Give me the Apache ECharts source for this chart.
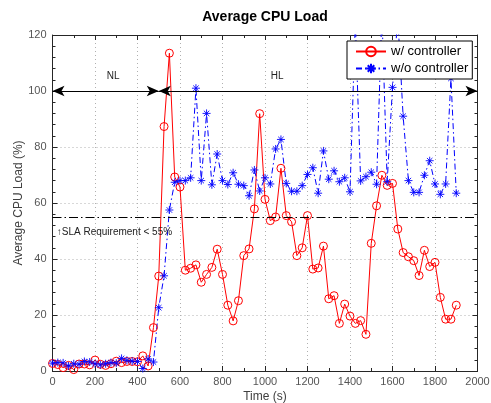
<!DOCTYPE html>
<html><head><meta charset="utf-8">
<script src="https://cdn.jsdelivr.net/npm/echarts@6/dist/echarts.min.js"></script>
<style>html,body{margin:0;padding:0;background:#fff}#c{width:491px;height:403px}</style>
</head><body><div id="c"></div>
<script>
// ---- data ----
const times = [0,25,50,75,100,125,150,175,200,225,250,275,300,325,350,375,400,425,450,475,
  500,525,550,575,600,625,650,675,700,725,750,775,800,825,850,875,900,925,950,975,
  1000,1025,1050,1075,1100,1125,1150,1175,1200,1225,1250,1275,1300,1325,1350,1375,1400,1425,1450,1475,
  1500,1525,1550,1575,1600,1625,1650,1675,1700,1725,1750,1775,1800,1825,1850,1875,1900];
const withController = [2.7,2.3,1.2,2.0,0.5,2.5,2.5,2.2,3.9,2.4,2.0,2.6,3.5,3.0,3.4,3.4,3.3,5.4,1.8,15.5,
  33.9,87.3,113.5,69.3,65.7,36,36.7,37.9,31.7,34.5,37,43.5,34.5,23.5,17.9,25.1,41.2,43.6,57.9,91.9,
  61.3,53.7,55,72.4,55.5,53.3,41.2,44,55.5,36.4,36.8,44.6,25.8,26.9,17,23.9,19.6,17,18,13.1,
  45.6,59,69.9,66.3,67,50.7,42.3,40.8,39.4,34.1,43.1,37.3,38.8,26.3,18.5,18.5,23.5];
const withoutController = [2.8,3.0,2.9,1.8,2.6,2.4,3.4,3.2,2.6,2.2,2.6,3.0,2.8,4.5,3.8,3.5,3.4,0.9,4.3,3.2,
  22.6,34,57.5,67.4,68,68,69,101,68,92,66.5,77.5,68,66.6,70.8,66.7,66.2,62.6,71.8,64.3,
  69,66.8,79.3,82.7,67,64.2,64.2,66.2,70.2,72.6,63.5,78.6,68.5,71.5,67.6,69,64,125,67.9,69.4,
  71,66.7,128,67.6,101.3,126,91,68,63.8,63.8,69.9,75.1,66.8,63.1,66.8,104.5,63.5];
const seriesNames = ['w/ controller', 'w/o controller'];
const xRange = [0, 2000, 200];
const yRange = [0, 120, 20];
const slaLevel = 55;
const slaText = '\u2191SLA Requirement < 55%';
const slaTextAt = [20, 49.6];
const phaseLevel = 100;
const phases = [
  {name: 'NL', from: 0, to: 500, labelAt: 285},
  {name: 'HL', from: 500, to: 2000, labelAt: 1057}
];
const phaseLabelLevel = 105.4;

// ---- chart ----
const FONT = '"Liberation Sans", Arial, Helvetica, sans-serif';
const AX = '#262626';
const chart = echarts.init(document.getElementById('c'), null, {renderer: 'canvas'});
const star = 'path://M0,5L10,5M5,0L5,10M1.6,1.6L8.4,8.4M1.6,8.4L8.4,1.6';

function xAxisCfg(pos, labels) {
  return {
    type: 'value', position: pos, min: xRange[0], max: xRange[1], interval: xRange[2],
    name: labels ? 'Time (s)' : '', nameLocation: 'middle', nameGap: 20, nameMoveOverlap: false,
    nameTextStyle: {fontFamily: FONT, fontSize: 12, color: '#404040'},
    axisLine: {show: true, onZero: false, lineStyle: {color: AX, width: 1}},
    axisTick: {show: true, inside: true, length: 5, lineStyle: {color: AX}},
    minorTick: {show: true, splitNumber: 2, length: 3, lineStyle: {color: AX}},
    axisLabel: {show: labels, margin: 5, fontFamily: FONT, fontSize: 11, color: '#555', formatter: v => String(v)},
    splitLine: {show: labels, lineStyle: {color: '#b0b0b0', type: [1, 3], width: 1}}
  };
}
function yAxisCfg(pos, labels) {
  return {
    type: 'value', position: pos, min: yRange[0], max: yRange[1], interval: yRange[2],
    name: labels ? 'Average CPU Load (%)' : '', nameLocation: 'middle', nameGap: 28, nameMoveOverlap: false,
    nameTextStyle: {fontFamily: FONT, fontSize: 12, color: '#404040'},
    axisLine: {show: true, onZero: false, lineStyle: {color: AX, width: 1}},
    axisTick: {show: true, inside: true, length: 5, lineStyle: {color: AX}},
    minorTick: {show: true, splitNumber: 5, length: 3, lineStyle: {color: AX}},
    axisLabel: {show: labels, margin: 6, fontFamily: FONT, fontSize: 11, color: '#555', formatter: v => String(v)},
    splitLine: {show: labels, lineStyle: {color: '#b0b0b0', type: [1, 3], width: 1}}
  };
}

const option = {
  animation: false,
  backgroundColor: '#fff',
  title: {
    text: 'Average CPU Load', left: 265, top: 10, textAlign: 'center', padding: 0,
    textStyle: {fontFamily: FONT, fontSize: 14, fontWeight: 'bold', color: '#000'}
  },
  grid: {left: 52.5, right: 13.5, top: 35, bottom: 32, containLabel: false, outerBoundsMode: 'none'},
  legend: {
    orient: 'vertical', left: 347, top: 41, padding: [4, 4, 4, 8], itemGap: 4,
    itemWidth: 30, itemHeight: 12, borderColor: '#000', borderWidth: 1, backgroundColor: '#fff',
    textStyle: {fontFamily: FONT, fontSize: 13, color: '#000'},
    data: seriesNames
  },
  xAxis: [xAxisCfg('bottom', true), xAxisCfg('top', false)],
  yAxis: [yAxisCfg('left', true), yAxisCfg('right', false)],
  series: [
    {
      name: seriesNames[0], type: 'line', xAxisIndex: 0, yAxisIndex: 0,
      data: times.map((t, i) => [t, withController[i]]),
      symbol: 'circle', symbolSize: 8, showAllSymbol: true, clip: true,
      itemStyle: {color: 'rgba(255,255,255,0)', borderColor: '#ff0000', borderWidth: 1},
      lineStyle: {color: '#ff0000', width: 1},
      markLine: {
        silent: true, symbol: ['arrow', 'arrow'], symbolSize: [8, 12],
        lineStyle: {color: '#000', type: 'solid', width: 1},
        label: {show: false},
        data: phases.map(p => [{coord: [p.from, phaseLevel]}, {coord: [p.to, phaseLevel]}])
      },
      markPoint: {
        silent: true, symbol: 'circle', symbolSize: 0,
        data: phases.map(p => ({
          coord: [p.labelAt, phaseLabelLevel], value: p.name,
          label: {show: true, position: 'inside', formatter: p.name, fontFamily: FONT, fontSize: 10, color: '#222'}
        })).concat([{
          coord: slaTextAt, value: slaText,
          label: {show: true, position: 'right', distance: 0, formatter: slaText, fontFamily: FONT, fontSize: 10, color: '#222', align: 'left'}
        }])
      }
    },
    {
      name: seriesNames[1], type: 'line', xAxisIndex: 0, yAxisIndex: 0,
      data: times.map((t, i) => [t, withoutController[i]]),
      symbol: star, symbolSize: 8, showAllSymbol: true, clip: true,
      itemStyle: {color: '#0000ff', borderColor: '#0000ff', borderWidth: 0.9},
      lineStyle: {color: '#0000ff', width: 1, type: [6, 3, 1.5, 3]},
      markLine: {
        silent: true, symbol: 'none',
        lineStyle: {color: '#000', type: [9, 3, 1.5, 3], width: 1},
        label: {show: false},
        data: [{yAxis: slaLevel}]
      }
    }
  ]
};
chart.setOption(option);
</script>
</body></html>
